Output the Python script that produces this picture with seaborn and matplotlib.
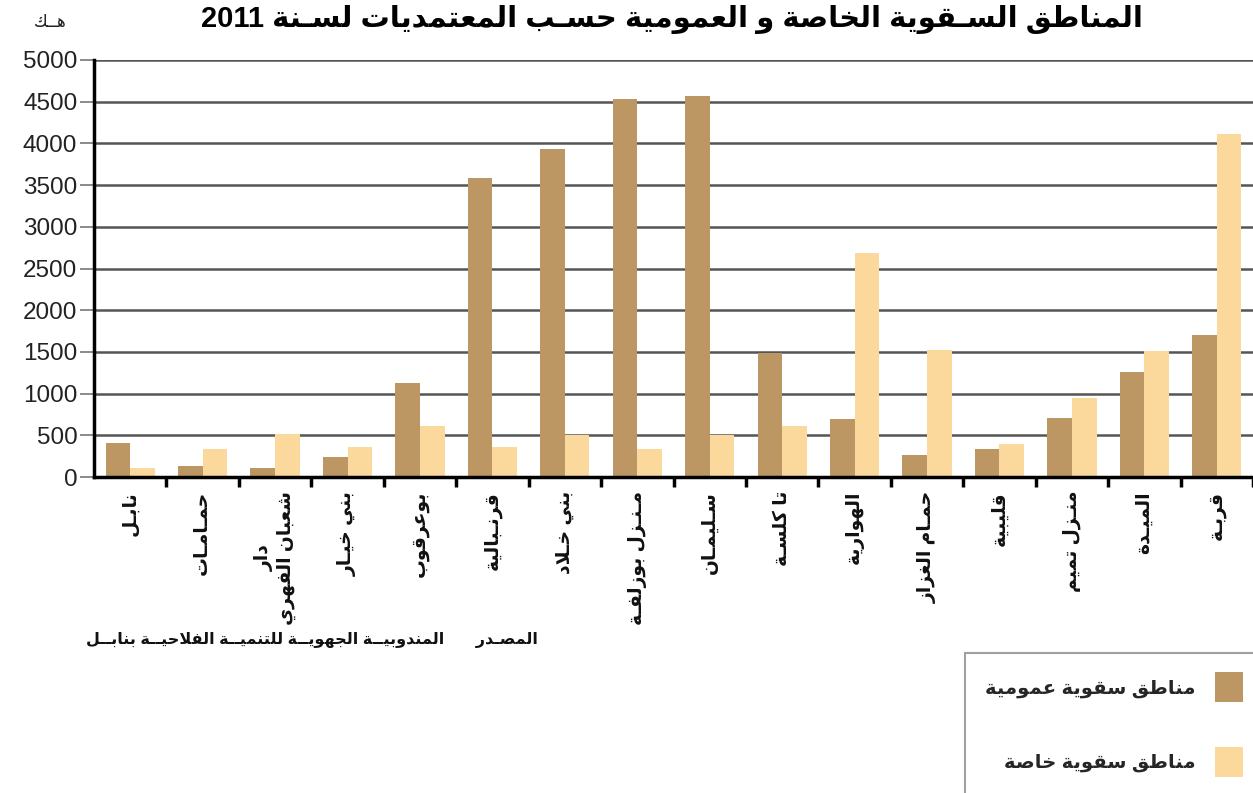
import re
import pandas as pd
import matplotlib
matplotlib.use('Agg')
import matplotlib.pyplot as plt
import seaborn as sns
from matplotlib.patches import Patch, Rectangle
from matplotlib.ticker import FixedLocator

# Data
categories = ['نابـل', 'حمـامـات', 'دار\nشعبان الفهري', 'بني خيـار', 'بوعرقوب', 'قرنـبالية',
              'بني خـلاد', 'مـنـزل بوزلفـة', 'سـليمـان', 'تا كلسـة', 'الهوارية', 'حمـام الغزاز',
              'قليبية', 'منـزل تميم', 'الميـدة', 'قربـة']
public = [410, 130, 110, 240, 1130, 3580, 3930, 4530, 4570, 1490, 700, 260, 330, 710, 1260, 1700]
private = [110, 340, 510, 360, 615, 360, 505, 330, 505, 615, 2690, 1520, 395, 945, 1505, 4115]
series = ['مناطق سقوية عمومية', 'مناطق سقوية خاصة']
colors = ['#bc9763', '#fbd99c']
yticks = list(range(0, 5001, 500))
title = 'المناطق السـقوية الخاصة و العمومية حسـب المعتمديات لسـنة 2011'
unit = 'هــك'
source = 'المصـدر       المندوبيــة الجهويــة للتنميــة الفلاحيــة بنابــل'

# Arabic shaping (matplotlib has no text shaping): contextual forms + RTL order
FORMS = {'ء': (0xFE80, 1), 'آ': (0xFE81, 2), 'أ': (0xFE83, 2), 'إ': (0xFE87, 2), 'ا': (0xFE8D, 2),
         'ب': (0xFE8F, 4), 'ة': (0xFE93, 2), 'ت': (0xFE95, 4), 'ث': (0xFE99, 4), 'ج': (0xFE9D, 4),
         'ح': (0xFEA1, 4), 'خ': (0xFEA5, 4), 'د': (0xFEA9, 2), 'ذ': (0xFEAB, 2), 'ر': (0xFEAD, 2),
         'ز': (0xFEAF, 2), 'س': (0xFEB1, 4), 'ش': (0xFEB5, 4), 'ص': (0xFEB9, 4), 'ض': (0xFEBD, 4),
         'ط': (0xFEC1, 4), 'ظ': (0xFEC5, 4), 'ع': (0xFEC9, 4), 'غ': (0xFECD, 4), 'ف': (0xFED1, 4),
         'ق': (0xFED5, 4), 'ك': (0xFED9, 4), 'ل': (0xFEDD, 4), 'م': (0xFEE1, 4), 'ن': (0xFEE5, 4),
         'ه': (0xFEE9, 4), 'و': (0xFEED, 2), 'ى': (0xFEEF, 2), 'ي': (0xFEF1, 4)}
LAMALEF = {'آ': 0xFEF5, 'أ': 0xFEF7, 'إ': 0xFEF9, 'ا': 0xFEFB}


def joins_next(t):
    return t == 'ـ' or (isinstance(t, str) and FORMS.get(t, (0, 0))[1] == 4)


def joins_prev(t):
    return t == 'ـ' or isinstance(t, tuple) or FORMS.get(t, (0, 0))[1] >= 2


def shape_line(text):
    toks = []
    i = 0
    while i < len(text):
        if text[i] == 'ل' and i + 1 < len(text) and text[i + 1] in LAMALEF:
            toks.append(('LA', text[i + 1]))
            i += 2
        else:
            toks.append(text[i])
            i += 1
    out = []
    for k, t in enumerate(toks):
        p = k > 0 and joins_next(toks[k - 1]) and joins_prev(t)
        n = k < len(toks) - 1 and joins_next(t) and joins_prev(toks[k + 1])
        if isinstance(t, tuple):
            out.append(chr(LAMALEF[t[1]] + (1 if p else 0)))
        elif t in FORMS:
            base, nf = FORMS[t]
            if nf == 4:
                idx = {(False, False): 0, (True, False): 1, (False, True): 2, (True, True): 3}[(p, n)]
            elif nf == 2:
                idx = 1 if p else 0
            else:
                idx = 0
            out.append(chr(base + idx))
        else:
            out.append(t)
    vis = ''.join(out)[::-1]
    return re.sub(r'[0-9]+', lambda m: m.group(0)[::-1], vis)


def ar(text):
    return '\n'.join(shape_line(l) for l in text.split('\n'))


df = pd.DataFrame({
    'cat': categories * 2,
    'val': public + private,
    'type': [series[0]] * len(categories) + [series[1]] * len(categories),
})

sns.set_theme(style='white')
plt.rcParams['font.family'] = ['Liberation Sans', 'DejaVu Sans']

fig = plt.figure(figsize=(12.53, 7.93), dpi=100)
ax = fig.add_axes([94 / 1253, 316 / 793, 1159 / 1253, 417 / 793])

sns.barplot(data=df, x='cat', y='val', hue='type', hue_order=series, order=categories,
            palette=colors, width=0.68, saturation=1, legend=False, ax=ax,
            edgecolor='none', linewidth=0)

ax.set_xlim(-0.5, len(categories) - 0.5)
ax.set_ylim(0, 5000)
ax.set_yticks(yticks)
ax.set_yticklabels([str(v) for v in yticks], fontsize=17.5, color='#222222')
ax.yaxis.grid(True, color='#555555', linewidth=1.8)
ax.set_axisbelow(True)
ax.set_xlabel('')
ax.set_ylabel('')

ax.set_xticks(range(len(categories)))
ax.set_xticklabels([ar(c) for c in categories], rotation=90, fontsize=13.5, fontweight='bold',
                   va='top', ha='center', multialignment='center', color='#111111')
ax.tick_params(axis='x', which='major', length=0, pad=10)
ax.xaxis.set_minor_locator(FixedLocator([i + 0.5 for i in range(len(categories))]))
ax.tick_params(axis='x', which='minor', bottom=True, length=7, width=2.5, color='black', direction='out')
ax.tick_params(axis='y', left=True, length=10, width=1.2, color='#777777', pad=2)

for s in ['top', 'right']:
    ax.spines[s].set_visible(False)
for s in ['left', 'bottom']:
    ax.spines[s].set_color('black')
    ax.spines[s].set_linewidth(2.5)

fig.text(672 / 1253, 1 - 27 / 793, ar(title), ha='center', va='baseline',
         fontsize=21, fontweight='bold', color='black')
fig.text(50 / 1253, 1 - 27 / 793, ar(unit), ha='center', va='baseline', fontsize=12, color='#222222')
fig.text(86 / 1253, 1 - 640 / 793, ar(source), ha='left', va='center', fontsize=11.5,
         fontweight='bold', color='#111111')

# legend box
fig.patches.append(Rectangle((965 / 1253, -0.01), 0.25, (793 - 653) / 793 + 0.01,
                             transform=fig.transFigure, fill=False, edgecolor='#a0a0a0', linewidth=1.5))
handles = [Patch(facecolor=c, edgecolor='none') for c in colors]
fig.legend(handles, [ar(s) for s in series], loc='upper right',
           bbox_to_anchor=(1243 / 1253, 1 - 672 / 793), markerfirst=False, frameon=False,
           prop={'size': 14, 'weight': 'bold'}, handlelength=1.45, handleheight=2.0,
           labelspacing=2.3, handletextpad=1.0, borderpad=0, borderaxespad=0)

fig.savefig('out.png', dpi=100)
